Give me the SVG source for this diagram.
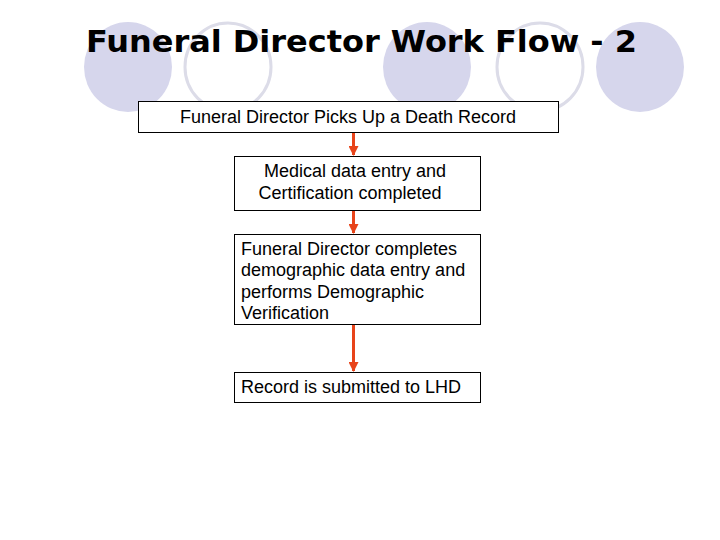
<svg xmlns="http://www.w3.org/2000/svg" width="720" height="540" viewBox="0 0 720 540">
<style>
.bgf{fill:#D6D6EC;stroke:none}
.bgo{fill:none;stroke:#DCDCE8;stroke-width:3}
.box{fill:#FFFFFF;stroke:#000000;stroke-width:1}
.t{font-family:"Liberation Sans",Arial,sans-serif;font-size:18px;fill:#000000}
.title{font-family:"DejaVu Sans",Verdana,sans-serif;font-weight:bold;font-size:31px;fill:#000000}
.conn{stroke:#E8441A;stroke-width:3;fill:none}
</style>
<defs>
<marker id="ah" markerWidth="10" markerHeight="10" refX="9" refY="5" orient="auto" markerUnits="userSpaceOnUse" viewBox="0 0 10 10">
<path d="M0,0 L10,5 L0,10 Z" fill="#E8441A"/>
</marker>
</defs>
<rect width="720" height="540" fill="#FFFFFF"/>
<g id="background">
<ellipse class="bgf" cx="128" cy="67" rx="44" ry="45"/>
<ellipse class="bgo" cx="228" cy="67" rx="43" ry="44"/>
<ellipse class="bgf" cx="427" cy="67" rx="44" ry="45"/>
<ellipse class="bgo" cx="540" cy="67" rx="43" ry="44"/>
<ellipse class="bgf" cx="640" cy="67" rx="44" ry="45"/>
</g>
<text class="title" x="86" y="52" textLength="551" lengthAdjust="spacingAndGlyphs">Funeral Director Work Flow - 2</text>
<g id="connectors">
<path class="conn" d="M353.5,132 V155" marker-end="url(#ah)"/>
<path class="conn" d="M353.5,210 V233" marker-end="url(#ah)"/>
<path class="conn" d="M353.5,324 V371" marker-end="url(#ah)"/>
</g>
<g id="node1">
<rect class="box" x="138.5" y="101.5" width="420" height="31"/>
<text class="t" x="348" y="123" text-anchor="middle">Funeral Director Picks Up a Death Record</text>
</g>
<g id="node2">
<rect class="box" x="234.5" y="156.5" width="246" height="54"/>
<text class="t" x="355" y="177" text-anchor="middle">Medical data entry and</text>
<text class="t" x="350" y="199" text-anchor="middle">Certification completed</text>
</g>
<g id="node3">
<rect class="box" x="234.5" y="234.5" width="246" height="90"/>
<text class="t" x="241" y="255">Funeral Director completes</text>
<text class="t" x="241" y="276">demographic data entry and</text>
<text class="t" x="241" y="298">performs Demographic</text>
<text class="t" x="241" y="319">Verification</text>
</g>
<g id="node4">
<rect class="box" x="234.5" y="372.5" width="246" height="30"/>
<text class="t" x="241" y="393">Record is submitted to LHD</text>
</g>
</svg>
